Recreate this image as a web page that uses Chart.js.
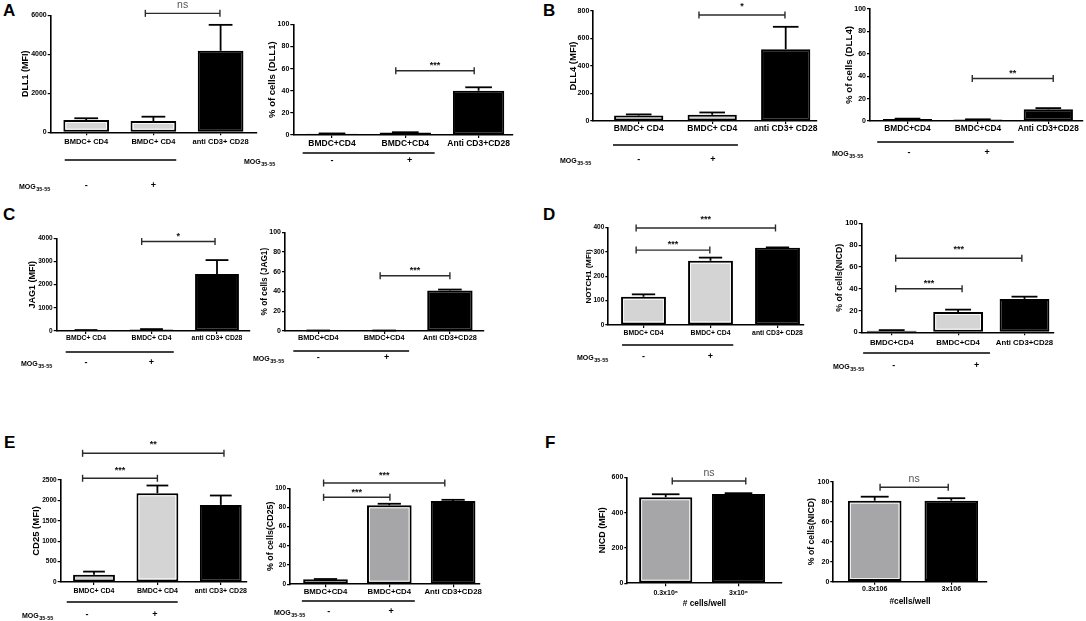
<!DOCTYPE html>
<html lang="en">
<head>
<meta charset="UTF-8" />
<title>Notch ligands and receptors on CD4 T cells</title>
<script src="https://cdn.jsdelivr.net/npm/chart.js"></script>
<style>
  body { margin: 0; background: #fff; }
  #fig { position: relative; width: 1086px; height: 621px; overflow: hidden; background: #fff; }
  #fig canvas { position: absolute; }
  .tag { position: absolute; font: bold 17px/17px 'Liberation Sans', Arial, sans-serif; color: #000; }
</style>
</head>
<body>
<div id="fig">
  <div class="tag" style="left:3px;top:2px">A</div>
  <div class="tag" style="left:543px;top:2px">B</div>
  <div class="tag" style="left:3px;top:206px">C</div>
  <div class="tag" style="left:543px;top:206px">D</div>
  <div class="tag" style="left:4px;top:434px">E</div>
  <div class="tag" style="left:545px;top:434px">F</div>
</div>
<script>
  const FONT = "'Liberation Sans', Arial, sans-serif";
  const LIGHT = '#d4d4d4';
  const MID = '#a6a6a9';
  const BLACK = '#000000';

  // categories
  const catsMfi = ['BMDC+ CD4', 'BMDC+ CD4', 'anti CD3+ CD28'];
  const catsPct = ['BMDC+CD4', 'BMDC+CD4', 'Anti CD3+CD28'];
  const catsCellsMfi = ['0.3x10\u2076', '3x10\u2076'];
  const catsCellsPct = ['0.3x106', '3x106'];

  // means and SEM
  const dll1Mfi = [630, 580, 4180];    const dll1MfiSem = [90, 220, 1330];
  const dll1Pct = [1.2, 2.2, 40];      const dll1PctSem = [0.2, 0.3, 3.1];
  const dll4Mfi = [40, 45, 522];       const dll4MfiSem = [8, 17, 163];
  const dll4Pct = [1.8, 1.3, 10.4];    const dll4PctSem = [0.3, 0.2, 1.1];
  const jag1Mfi = [35, 70, 2460];      const jag1MfiSem = [6, 12, 600];
  const jag1Pct = [0.4, 0.4, 41];      const jag1PctSem = [0.1, 0.1, 1];
  const notch1Mfi = [116, 264, 318];   const notch1MfiSem = [10, 13, 1];
  const nicdPct = [1.5, 18.7, 30.6];   const nicdPctSem = [0.5, 2.1, 2.1];
  const cd25Mfi = [180, 2175, 1890];   const cd25MfiSem = [75, 190, 230];
  const cd25Pct = [5.2, 82.3, 86.8];   const cd25PctSem = [0.3, 1.6, 1.2];
  const nicdCellsMfi = [487, 505];     const nicdCellsMfiSem = [17, 5];
  const nicdCellsPct = [81, 81];       const nicdCellsPctSem = [4, 2.5];

  const panels = [
    { id: 'a1', cats: catsMfi, vals: dll1Mfi, sem: dll1MfiSem, colors: [LIGHT, LIGHT, BLACK],
      yMax: 6000, step: 2000, yTitle: 'DLL1 (MFI)',
      sig: [{ a: 0.88, b: 1.99, v: 6100, t: 'ns' }],
      g: { ax: 50.7, ax1: 256.7, c0: 86.2, s: 67.2, yTop: 15.3, yBot: 132.3, bar: 0.68, tx: 26 },
      f: { tick: 7, cat: 7.5, title: 9, catOff: 10 },
      mog: { x: 19, line: 160, sign: 186, gl: [-0.32, 1.34], signs: [0, 1] } },
    { id: 'a2', cats: catsPct, vals: dll1Pct, sem: dll1PctSem, colors: [LIGHT, LIGHT, BLACK],
      yMax: 100, step: 20, yTitle: '% of cells (DLL1)',
      sig: [{ a: 0.87, b: 1.94, v: 58, t: '***' }],
      g: { ax: 293.3, ax1: 513, c0: 332, s: 73.3, yTop: 24.3, yBot: 135, bar: 0.7, tx: 272 },
      f: { tick: 7, cat: 8.5, title: 9.5, catOff: 8.3 },
      mog: { x: 244, line: 153, sign: 161, gl: [-0.4, 1.4], signs: [0, 1.06] } },
    { id: 'b1', cats: catsMfi, vals: dll4Mfi, sem: dll4MfiSem, colors: [LIGHT, LIGHT, BLACK],
      yMax: 800, step: 200, yTitle: 'DLL4 (MFI)',
      sig: [{ a: 0.82, b: 1.99, v: 771, t: '*', d: 11 }],
      g: { ax: 593.3, ax1: 817, c0: 638.7, s: 73.5, yTop: 11, yBot: 121, bar: 0.67, tx: 573 },
      f: { tick: 7, cat: 8.5, title: 9.5, catOff: 7.5 },
      mog: { x: 560, line: 145, sign: 160, gl: [-0.35, 1.35], signs: [0, 1.01] } },
    { id: 'b2', cats: catsPct, vals: dll4Pct, sem: dll4PctSem, colors: [LIGHT, LIGHT, BLACK],
      yMax: 100, step: 20, yTitle: '% of cells (DLL4)',
      sig: [{ a: 0.92, b: 2.07, v: 38, t: '**' }],
      g: { ax: 870, ax1: 1083, c0: 907.5, s: 70.4, yTop: 9, yBot: 121, bar: 0.7, tx: 849 },
      f: { tick: 7, cat: 8.3, title: 9.7, catOff: 7.3 },
      mog: { x: 832, line: 142, sign: 153, gl: [-0.43, 1.51], signs: [0.02, 1.13] } },
    { id: 'c1', cats: catsMfi, vals: jag1Mfi, sem: jag1MfiSem, colors: [LIGHT, LIGHT, BLACK],
      yMax: 4000, step: 1000, yTitle: 'JAG1 (MFI)',
      sig: [{ a: 0.85, b: 1.97, v: 3860, t: '*' }],
      g: { ax: 56.7, ax1: 250, c0: 86, s: 65.5, yTop: 238.3, yBot: 331, bar: 0.67, tx: 33 },
      f: { tick: 6.5, cat: 6.8, title: 9, catOff: 6.7 },
      mog: { x: 21, line: 352, sign: 363, gl: [-0.31, 1.34], signs: [0, 1] } },
    { id: 'c2', cats: catsPct, vals: jag1Pct, sem: jag1PctSem, colors: [LIGHT, LIGHT, BLACK],
      yMax: 100, step: 20, yTitle: '% of cells (JAG1)',
      sig: [{ a: 0.94, b: 2.0, v: 56, t: '***' }],
      g: { ax: 285, ax1: 483.3, c0: 318.3, s: 65.8, yTop: 232.3, yBot: 331, bar: 0.69, tx: 265 },
      f: { tick: 7, cat: 7.3, title: 8.3, catOff: 6.8 },
      mog: { x: 253, line: 351, sign: 358, gl: [-0.38, 1.38], signs: [0, 1.04] } },
    { id: 'd1', cats: catsMfi, vals: notch1Mfi, sem: notch1MfiSem, colors: [LIGHT, LIGHT, BLACK],
      yMax: 400, step: 100, yTitle: 'NOTCH1 (MFI)',
      sig: [{ a: -0.11, b: 0.99, v: 308, t: '***' }, { a: -0.11, b: 1.97, v: 399, t: '***', d: 11 }],
      g: { ax: 608.3, ax1: 803.3, c0: 643.5, s: 67, yTop: 227.7, yBot: 325, bar: 0.67, tx: 589 },
      f: { tick: 6.5, cat: 6.8, title: 8, catOff: 8 },
      mog: { x: 577, line: 345, sign: 357, gl: [-0.32, 1.34], signs: [0, 1] } },
    { id: 'd2', cats: catsPct, vals: nicdPct, sem: nicdPctSem, colors: [LIGHT, LIGHT, BLACK],
      yMax: 100, step: 20, yTitle: '% of cells(NICD)',
      sig: [{ a: 0.06, b: 1.06, v: 40, t: '***' }, { a: 0.06, b: 1.96, v: 68, t: '***', d: 11 }],
      g: { ax: 861.7, ax1: 1053.3, c0: 891.7, s: 66.4, yTop: 223.3, yBot: 332.3, bar: 0.75, tx: 840 },
      f: { tick: 7.5, cat: 7.8, title: 8.8, catOff: 11 },
      mog: { x: 833, line: 353, sign: 366, gl: [-0.43, 1.48], signs: [0.03, 1.28] } },
    { id: 'e1', cats: catsMfi, vals: cd25Mfi, sem: cd25MfiSem, colors: [LIGHT, LIGHT, BLACK],
      yMax: 2500, step: 500, yTitle: 'CD25 (MFI)',
      sig: [{ a: -0.18, b: 1.0, v: 2542, t: '***', d: 10 }, { a: -0.18, b: 2.05, v: 3154, t: '**', d: 11.5 }],
      g: { ax: 60.7, ax1: 246.7, c0: 94, s: 63.4, yTop: 480, yBot: 582, bar: 0.66, tx: 36 },
      f: { tick: 6.5, cat: 7, title: 9.5, catOff: 9 },
      mog: { x: 22, line: 602, sign: 615, gl: [-0.43, 1.32], signs: [-0.11, 0.96] } },
    { id: 'e2', cats: catsPct, vals: cd25Pct, sem: cd25PctSem, colors: [MID, MID, BLACK],
      yMax: 100, step: 20, yTitle: '% of cells(CD25)',
      sig: [{ a: -0.03, b: 1.01, v: 90.6, t: '***' }, { a: -0.03, b: 1.87, v: 105.5, t: '***', d: 10.5 }],
      g: { ax: 290, ax1: 480, c0: 325.5, s: 63.8, yTop: 488.3, yBot: 584.3, bar: 0.7, tx: 271 },
      f: { tick: 6.5, cat: 7.8, title: 8.9, catOff: 7.7 },
      mog: { x: 274, line: 601, sign: 612, gl: [-0.37, 1.4], signs: [0.05, 1.03] } },
    { id: 'f1', cats: catsCellsMfi, vals: nicdCellsMfi, sem: nicdCellsMfiSem, colors: [MID, BLACK],
      yMax: 600, step: 200, yTitle: 'NICD (MFI)',
      sig: [{ a: 0.09, b: 1.1, v: 579, t: 'ns' }],
      g: { ax: 627.3, ax1: 781.7, c0: 665.7, s: 72.8, yTop: 477.3, yBot: 583.3, bar: 0.73, tx: 603 },
      f: { tick: 7, cat: 7, title: 9, catOff: 9.7 },
      xTitle: { text: '# cells/well', y: 604 } },
    { id: 'f2', cats: catsCellsPct, vals: nicdCellsPct, sem: nicdCellsPctSem, colors: [MID, BLACK],
      yMax: 100, step: 20, yTitle: '% of cells(NICD)',
      sig: [{ a: 0.07, b: 0.96, v: 94.4, t: 'ns' }],
      g: { ax: 833.3, ax1: 986.7, c0: 874.7, s: 76.6, yTop: 481.7, yBot: 581.7, bar: 0.7, tx: 812 },
      f: { tick: 7, cat: 7, title: 8.7, catOff: 7.3 },
      xTitle: { text: '#cells/well', y: 602 } }
  ];

  function seg(ctx, x1, y1, x2, y2) {
    ctx.beginPath();
    ctx.moveTo(x1, y1);
    ctx.lineTo(x2, y2);
    ctx.stroke();
  }

  function annotPlugin(p) {
    return {
      id: 'annot_' + p.id,
      afterDatasetsDraw(chart) {
        const { ctx, chartArea: ca, scales: { x, y } } = chart;
        const meta = chart.getDatasetMeta(0);
        const cl = p.cl, ct = p.ct;
        ctx.save();

        // white inner line of the gray bars
        meta.data.forEach((bar, i) => {
          if (p.colors[i] === BLACK) return;
          const h = bar.base - bar.y;
          if (h < 8) return;
          ctx.strokeStyle = '#fff';
          ctx.lineWidth = 0.8;
          ctx.strokeRect(bar.x - bar.width / 2 + 2.6, bar.y + 2.6, bar.width - 5.2, h - 5.2);
        });

        // error bars (mean + SEM)
        ctx.strokeStyle = '#000';
        ctx.lineWidth = 1.8;
        p.vals.forEach((v, i) => {
          const bar = meta.data[i];
          const y0 = y.getPixelForValue(v);
          const y1 = y.getPixelForValue(v + p.sem[i]);
          const hw = bar.width * 0.26;
          seg(ctx, bar.x, y0, bar.x, y1);
          seg(ctx, bar.x - hw, y1, bar.x + hw, y1);
        });

        // significance brackets
        p.sig.forEach(s => {
          const xa = x.getPixelForValue(s.a);
          const xb = x.getPixelForValue(s.b);
          const yy = y.getPixelForValue(s.v);
          ctx.strokeStyle = '#2b2b2b';
          ctx.lineWidth = 1.4;
          seg(ctx, xa, yy, xb, yy);
          seg(ctx, xa, yy - 3.5, xa, yy + 3.5);
          seg(ctx, xb, yy - 3.5, xb, yy + 3.5);
          const ns = s.t === 'ns';
          const d = s.d || 8;
          ctx.textAlign = 'center';
          ctx.textBaseline = 'alphabetic';
          if (ns) {
            ctx.fillStyle = '#555';
            ctx.font = '10.5px ' + FONT;
            ctx.fillText(s.t, (xa + xb) / 2, yy - d + 2.8);
          } else {
            ctx.fillStyle = '#111';
            ctx.font = 'bold 9px ' + FONT;
            ctx.fillText(s.t, (xa + xb) / 2, yy - d + 5.2);
          }
        });

        // y axis title
        ctx.save();
        ctx.translate(p.g.tx - cl, (ca.top + ca.bottom) / 2);
        ctx.rotate(-Math.PI / 2);
        ctx.fillStyle = '#000';
        ctx.font = 'bold ' + p.f.title + 'px ' + FONT;
        ctx.textAlign = 'center';
        ctx.textBaseline = 'middle';
        ctx.fillText(p.yTitle, 0, 0);
        ctx.restore();

        // MOG35-55 row
        if (p.mog) {
          const m = p.mog;
          ctx.strokeStyle = '#000';
          ctx.lineWidth = 1.6;
          seg(ctx, x.getPixelForValue(m.gl[0]), m.line - ct, x.getPixelForValue(m.gl[1]), m.line - ct);
          ctx.fillStyle = '#000';
          ctx.font = 'bold 9px ' + FONT;
          ctx.textAlign = 'center';
          ctx.textBaseline = 'middle';
          ctx.fillText('-', x.getPixelForValue(m.signs[0]), m.sign - ct);
          ctx.fillText('+', x.getPixelForValue(m.signs[1]), m.sign - ct);
          ctx.textAlign = 'left';
          ctx.textBaseline = 'alphabetic';
          ctx.font = 'bold 7px ' + FONT;
          ctx.fillText('MOG', m.x - cl, m.sign - ct + 2.5);
          const w = ctx.measureText('MOG').width;
          ctx.font = 'bold 5.5px ' + FONT;
          ctx.fillText('35-55', m.x - cl + w + 0.5, m.sign - ct + 4.5);
        }

        // x axis title (panel F)
        if (p.xTitle) {
          ctx.fillStyle = '#000';
          ctx.font = 'bold 8.3px ' + FONT;
          ctx.textAlign = 'center';
          ctx.textBaseline = 'middle';
          ctx.fillText(p.xTitle.text, (ca.left + ca.right) / 2, p.xTitle.y - ct);
        }
        ctx.restore();
      }
    };
  }

  const fig = document.getElementById('fig');

  panels.forEach(p => {
    const g = p.g;
    const pix = v => g.yBot - v / p.yMax * (g.yBot - g.yTop);
    const topMost = Math.min(g.yTop, ...p.sig.map(s => pix(s.v)));
    const cl = Math.max(0, Math.floor(Math.min(g.ax - 45, g.tx - 8, p.mog ? p.mog.x - 3 : 1e9)));
    const ct = Math.max(0, Math.floor(topMost - 20));
    const cr = Math.ceil(g.ax1 + 18);
    const cb = Math.ceil((p.mog ? Math.max(p.mog.sign, p.mog.line) : p.xTitle.y) + 10);
    p.cl = cl;
    p.ct = ct;

    const canvas = document.createElement('canvas');
    canvas.id = p.id;
    canvas.width = cr - cl;
    canvas.height = cb - ct;
    canvas.style.left = cl + 'px';
    canvas.style.top = ct + 'px';
    canvas.style.width = (cr - cl) + 'px';
    canvas.style.height = (cb - ct) + 'px';
    fig.appendChild(canvas);

    const n = p.cats.length;
    const xMin = -(g.c0 - g.ax) / g.s;
    const xMax = (n - 1) + (g.ax1 - (g.c0 + (n - 1) * g.s)) / g.s;
    const catPad = Math.max(0, p.f.catOff - 3 - p.f.cat * 0.6);

    new Chart(canvas, {
      type: 'bar',
      data: {
        datasets: [{
          data: p.vals.map((v, i) => ({ x: i, y: v })),
          backgroundColor: p.colors,
          borderColor: '#000',
          borderWidth: 2,
          borderSkipped: false,
          barPercentage: g.bar,
          categoryPercentage: 1
        }]
      },
      options: {
        responsive: false,
        animation: false,
        events: [],
        layout: { padding: { left: 0, top: g.yTop - ct, right: cr - g.ax1, bottom: 0 } },
        plugins: { legend: { display: false }, tooltip: { enabled: false } },
        scales: {
          x: {
            type: 'linear',
            min: xMin,
            max: xMax,
            offset: false,
            afterFit(s) { s.height = cb - g.yBot; },
            afterBuildTicks(s) { s.ticks = p.cats.map((c, i) => ({ value: i })); },
            ticks: {
              callback: v => p.cats[v],
              autoSkip: false,
              maxRotation: 0,
              minRotation: 0,
              padding: catPad,
              color: '#000',
              font: { family: FONT, size: p.f.cat, weight: 'bold' }
            },
            grid: { display: true, offset: false, drawOnChartArea: false, drawTicks: true, tickLength: 3, color: '#000', lineWidth: 1.2 },
            border: { display: true, color: '#000', width: 1.6 }
          },
          y: {
            min: 0,
            max: p.yMax,
            afterFit(s) { s.width = g.ax - cl; },
            ticks: {
              stepSize: p.step,
              padding: 1,
              color: '#000',
              callback: v => String(v),
              font: { family: FONT, size: p.f.tick, weight: 'bold' }
            },
            grid: { drawOnChartArea: false, drawTicks: true, tickLength: 3, color: '#000', lineWidth: 1.2 },
            border: { display: true, color: '#000', width: 1.6 }
          }
        }
      },
      plugins: [annotPlugin(p)]
    });
  });
</script>
</body>
</html>
